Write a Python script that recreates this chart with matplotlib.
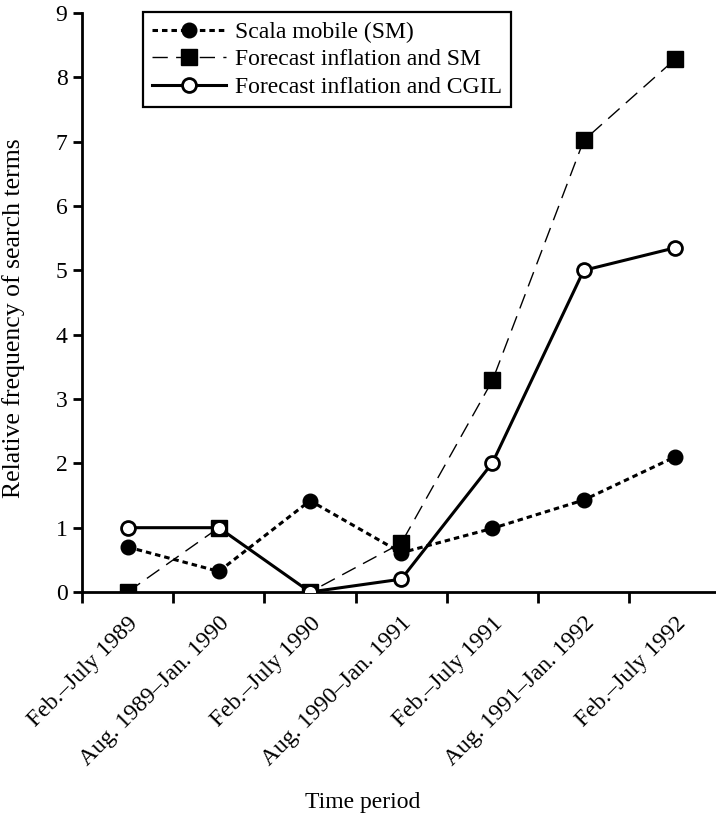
import numpy as np
import matplotlib
matplotlib.use("Agg")
import matplotlib.pyplot as plt

# data
periods = ["Feb.\u2013July 1989", "Aug. 1989\u2013Jan. 1990", "Feb.\u2013July 1990",
           "Aug. 1990\u2013Jan. 1991", "Feb.\u2013July 1991", "Aug. 1991\u2013Jan. 1992",
           "Feb.\u2013July 1992"]
scala_mobile = [0.70, 0.32, 1.42, 0.61, 0.99, 1.43, 2.10]
forecast_sm = [0.0, 1.0, 0.0, 0.76, 3.29, 7.02, 8.28]
forecast_cgil = [1.0, 1.0, 0.0, 0.20, 2.01, 5.0, 5.35]

plt.rcParams['font.family'] = ['Liberation Serif', 'DejaVu Serif']
plt.rcParams['font.size'] = 17

fig = plt.figure(figsize=(7.16, 8.25), dpi=100)
ax = fig.add_axes([0.1145, 0.2824, 0.8855, 0.7018])

x = np.arange(len(periods))

# draw order: filled circles, squares, then open circles on top
ax.plot(x, scala_mobile, linestyle=(0, (1.8, 1.3)), lw=2.2, color='black',
        marker='o', ms=10.5, mfc='black', mec='black', label='Scala mobile (SM)', zorder=3)
ax.plot(x, forecast_sm, linestyle=(0, (11, 6)), lw=1.0, color='black',
        marker='s', ms=11.5, mfc='black', mec='black', label='Forecast inflation and SM', zorder=4)
ax.plot(x, forecast_cgil, linestyle='-', lw=2.2, color='black',
        marker='o', ms=10, mfc='white', mec='black', mew=2.0,
        label='Forecast inflation and CGIL', zorder=5)

ax.set_xlim(-0.5, 6.45)
ax.set_ylim(0, 9)
ax.set_yticks(range(0, 10))

# labels sit under the points, ticks mark the period boundaries
ax.set_xticks(x)
ax.set_xticklabels(periods, rotation=45, ha='right', rotation_mode='anchor')
ax.set_xticks(np.arange(-0.5, 6.5, 1.0), minor=True)
ax.tick_params(axis='x', which='major', length=0, pad=15)
ax.tick_params(axis='x', which='minor', length=8, width=2.0, direction='out')
ax.tick_params(axis='y', length=6.5, width=2.0, direction='out', pad=4)

for side in ['top', 'right']:
    ax.spines[side].set_visible(False)
for side in ['left', 'bottom']:
    ax.spines[side].set_linewidth(2.0)

ax.set_ylabel("Relative frequency of search terms", fontsize=18.5)
ax.yaxis.set_label_coords(-0.09, 0.473)
ax.set_xlabel("Time period")
ax.xaxis.set_label_coords(0.443, -0.345)

leg = ax.legend(loc='upper left', bbox_to_anchor=(0.0962, 1.0017), borderaxespad=0,
                frameon=True, fancybox=False, edgecolor='black', handlelength=3.1,
                handletextpad=0.38, borderpad=0.4, labelspacing=0.25, framealpha=1)
leg.get_frame().set_linewidth(1.6)

fig.savefig("out.png", dpi=100)
